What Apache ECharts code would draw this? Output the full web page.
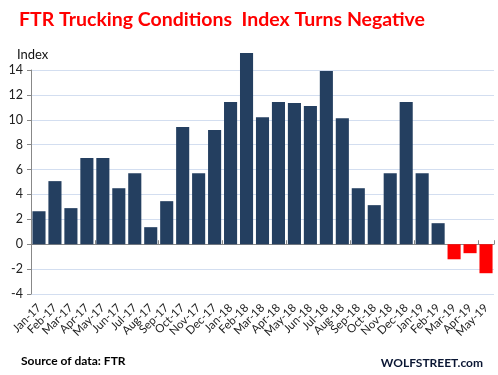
<!DOCTYPE html>
<html>
<head>
<meta charset="utf-8">
<script src="https://cdn.jsdelivr.net/npm/echarts@6/dist/echarts.min.js"></script>
<style>
  html, body { margin: 0; padding: 0; background: #fff; }
  #main { width: 498px; height: 375px; }
</style>
</head>
<body>
<div id="main"></div>
<script>
// months along the bottom
const months = [
  'Jan-17', 'Feb-17', 'Mar-17', 'Apr-17', 'May-17', 'Jun-17', 'Jul-17', 'Aug-17',
  'Sep-17', 'Oct-17', 'Nov-17', 'Dec-17', 'Jan-18', 'Feb-18', 'Mar-18', 'Apr-18',
  'May-18', 'Jun-18', 'Jul-18', 'Aug-18', 'Sep-18', 'Oct-18', 'Nov-18', 'Dec-18',
  'Jan-19', 'Feb-19', 'Mar-19', 'Apr-19', 'May-19'
];
// FTR trucking conditions index
const tci = [
  2.65, 5.07, 2.9, 6.92, 6.92, 4.5, 5.71, 1.37,
  3.46, 9.41, 5.71, 9.17, 11.42, 15.36, 10.21, 11.42,
  11.34, 11.1, 13.91, 10.13, 4.5, 3.14, 5.71, 11.42,
  5.71, 1.69, -1.21, -0.72, -2.33
];
const yMin = -4;
const yMax = 14;
const yStep = 2;

const font = 'Lato, "Open Sans", sans-serif';
const navy = '#243f60';
const chart = echarts.init(document.getElementById('main'));

const option = {
  animation: false,
  backgroundColor: '#fff',
  textStyle: { fontFamily: font },
  title: [
    {
      text: 'FTR Trucking Conditions  Index Turns Negative',
      left: 14, top: 5,
      textStyle: { color: '#ff0000', fontSize: 19.5, fontWeight: 'bold', fontFamily: font }
    },
    {
      text: 'Index',
      left: 12, top: 43,
      textStyle: { color: '#111', fontSize: 13, fontWeight: 'normal', fontFamily: font }
    },
    {
      text: 'Source of data: FTR',
      left: 16, top: 350,
      textStyle: { color: '#000', fontSize: 12, fontWeight: 'bold', fontFamily: font }
    },
    {
      text: 'WOLFSTREET.com',
      right: 10, top: 352,
      textStyle: { color: '#0a1633', fontSize: 12, fontWeight: 'bold', fontFamily: font }
    }
  ],
  grid: { left: 31, right: 4, top: 70, bottom: 81 },
  xAxis: [
    {
      type: 'category',
      data: months,
      position: 'bottom',
      axisLine: { onZero: true, lineStyle: { color: '#888', width: 1 } },
      axisTick: { show: true, inside: true, length: 4, lineStyle: { color: '#888' } },
      axisLabel: { show: false }
    },
    {
      type: 'category',
      data: months,
      position: 'bottom',
      axisLine: { show: false, onZero: false },
      axisTick: { show: false },
      axisLabel: {
        rotate: 45, margin: 12, color: '#222', fontSize: 11.5, fontFamily: font,
        interval: 0
      }
    }
  ],
  yAxis: {
    type: 'value',
    min: yMin, max: yMax, interval: yStep,
    axisLine: { show: true, lineStyle: { color: '#888', width: 1 } },
    axisTick: { show: true, length: 4, lineStyle: { color: '#888' } },
    axisLabel: { color: '#222', fontSize: 12.5, margin: 8, fontFamily: font },
    splitLine: { lineStyle: { color: '#d3def0', width: 1 } }
  },
  series: [
    {
      type: 'bar',
      xAxisIndex: 0,
      data: tci.map(v => ({ value: v, itemStyle: { color: v < 0 ? '#ff0000' : navy } })),
      barCategoryGap: '18%',
      clip: false
    }
  ]
};

chart.setOption(option);
</script>
</body>
</html>
